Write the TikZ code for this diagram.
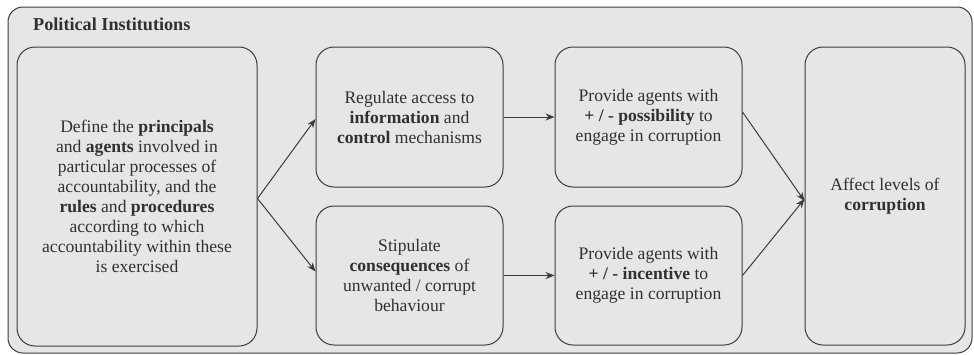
\documentclass[tikz,border=0pt]{standalone}
\usepackage{fontspec}
\setmainfont{Liberation Serif}
\usetikzlibrary{arrows.meta}
\definecolor{bgfill}{HTML}{E6E6E6}
\definecolor{edge}{HTML}{3C3C3C}
\definecolor{txt}{HTML}{303030}
\tikzset{
  box/.style={draw=edge, line width=1pt, fill=bgfill, rounded corners=18pt,
    align=center, text=txt, inner sep=0pt,
    font=\fontsize{17.6}{20}\selectfont},
  conn/.style={draw=edge, line width=1pt, -{Stealth[length=9pt,width=7pt]}}
}
\begin{document}
\begin{tikzpicture}[x=1pt,y=-1pt]
\useasboundingbox (0,0) rectangle (974,354);
\fill[white] (0,0) rectangle (974,354);
\node[draw=edge, line width=1pt, fill=bgfill, rounded corners=15pt, minimum width=964pt, minimum height=346pt, inner sep=0pt] (outer) at (490,180) {};
\node[anchor=west, text=txt, font=\fontsize{18.2}{20}\selectfont\bfseries, inner sep=0pt] (title) at (33,24) {Political Institutions};
\node[box, minimum width=240pt, minimum height=299pt] (define) at (137,196.5)
  {Define the \textbf{principals}\\ and \textbf{agents} involved in\\ particular processes of\\ accountability, and the\\ \textbf{rules} and \textbf{procedures}\\ according to which\\ accountability within these\\ is exercised};
\node[box, minimum width=187pt, minimum height=140pt] (regulate) at (409.5,117)
  {Regulate access to\\ \textbf{information} and\\ \textbf{control} mechanisms};
\node[box, minimum width=187pt, minimum height=139pt] (stipulate) at (409.5,275.5)
  {Stipulate\\ \textbf{consequences} of\\ unwanted / corrupt\\ behaviour};
\node[box, minimum width=187pt, minimum height=140pt] (possib) at (648.5,117)
  {Provide agents with\\ \textbf{+ / - possibility} to\\ engage in corruption};
\node[box, minimum width=187pt, minimum height=139pt] (incent) at (648.5,275.5)
  {Provide agents with\\ \textbf{+ / - incentive} to\\ engage in corruption};
\node[box, minimum width=160pt, minimum height=298pt] (affect) at (885,196)
  {Affect levels of\\ \textbf{corruption}};
\coordinate (dR) at ([yshift=-2pt]define.east);
\draw[conn] (dR) -- ([yshift=-2pt]regulate.west);
\draw[conn] (dR) -- ([yshift=4pt]stipulate.west);
\draw[conn] (regulate.east) -- (possib.west);
\draw[conn] (stipulate.east) -- (incent.west);
\draw[conn] ([yshift=5pt]possib.east) -- ([yshift=-5pt]affect.west);
\draw[conn] ([yshift=0pt]incent.east) -- ([yshift=-3pt]affect.west);
\end{tikzpicture}
\end{document}
